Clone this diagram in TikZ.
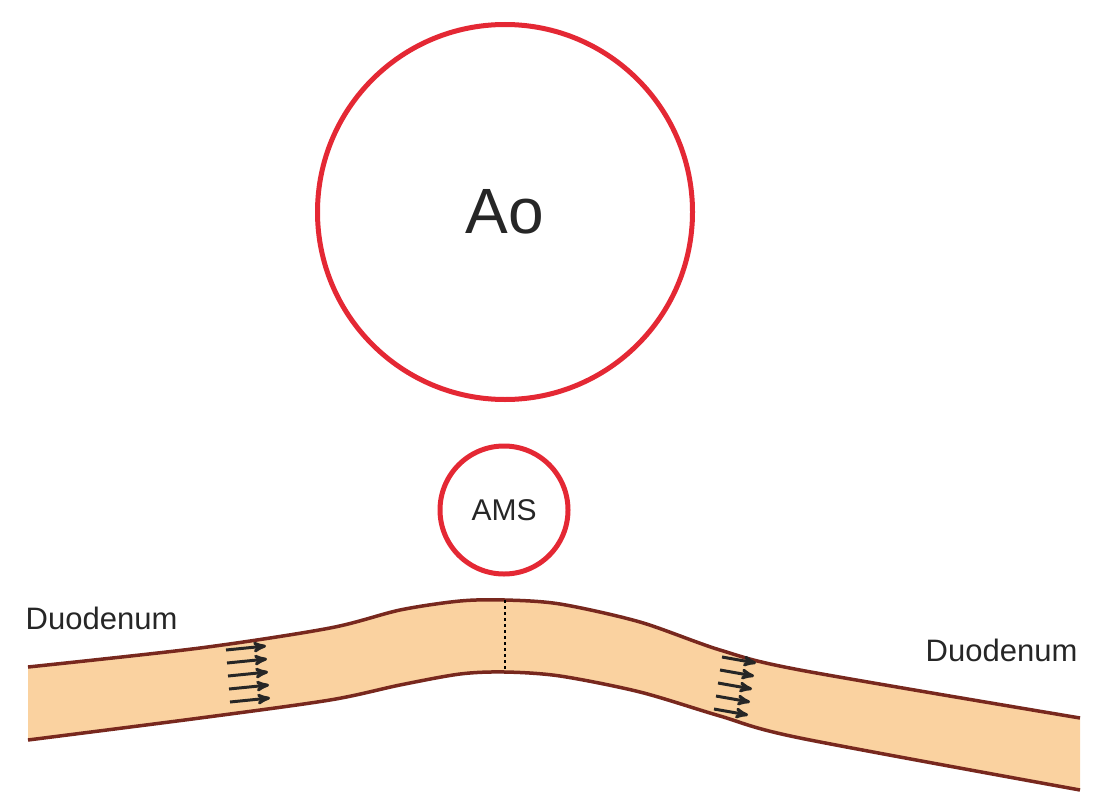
\documentclass[tikz,border=0pt]{standalone}
\usepackage{fontspec}
\setmainfont{Liberation Sans}
\usetikzlibrary{arrows}
\definecolor{vessel}{RGB}{228,40,52}
\definecolor{wall}{RGB}{120,40,30}
\definecolor{lumen}{RGB}{250,210,160}
\begin{document}
\begin{tikzpicture}[x=1pt,y=-1pt,>=stealth',thick]
\tikzstyle{vessel}=[draw=vessel,line width=5pt,circle]
\tikzstyle{flow}=[->,line width=3pt,black!85]
\useasboundingbox (0,0) rectangle (1107,800);
% duodenum
\fill[lumen] plot[smooth] coordinates {(28,667) (200,648) (330,628) (400,610) (460,601) (505,600) (560,604) (640,622) (720,650) (800,670) (1080,718)}
  -- plot[smooth] coordinates {(1080,790) (800,738) (720,716) (640,692) (560,676) (505,672) (460,674) (400,685) (330,700) (200,718) (28,740)} -- cycle;
\draw[wall,line width=3.5pt] plot[smooth] coordinates {(28,667) (200,648) (330,628) (400,610) (460,601) (505,600) (560,604) (640,622) (720,650) (800,670) (1080,718)};
\draw[wall,line width=3.5pt] plot[smooth] coordinates {(28,740) (200,718) (330,700) (400,685) (460,674) (505,672) (560,676) (640,692) (720,716) (800,738) (1080,790)};
\draw[dashed,line width=1.2pt] (505,600) -- (505,672);
% flow arrows
\foreach \i/\dx in {0/0,1/1,2/2,3/3,4/4}{
  \draw[flow] (226+\dx,650+13*\i) -- (266+\dx,646+13*\i);
  \draw[flow] (722-\dx*2,657+13*\i) -- (756-\dx*2,663+13*\i);
}
% vessels
\node[vessel,minimum size=375pt] (ao) at (505,212) {};
\node[font=\fontsize{64}{64}\selectfont,text=black!85] at (ao) {Ao};
\node[vessel,minimum size=128pt,font=\fontsize{30}{30}\selectfont,text=black!85] (ams) at (504,510) {AMS};
\node[font=\fontsize{31}{31}\selectfont,anchor=west,text=black!85] (dl) at (22,618) {Duodenum};
\node[font=\fontsize{31}{31}\selectfont,anchor=west,text=black!85] (dr) at (922,650) {Duodenum};
\end{tikzpicture}
\end{document}
